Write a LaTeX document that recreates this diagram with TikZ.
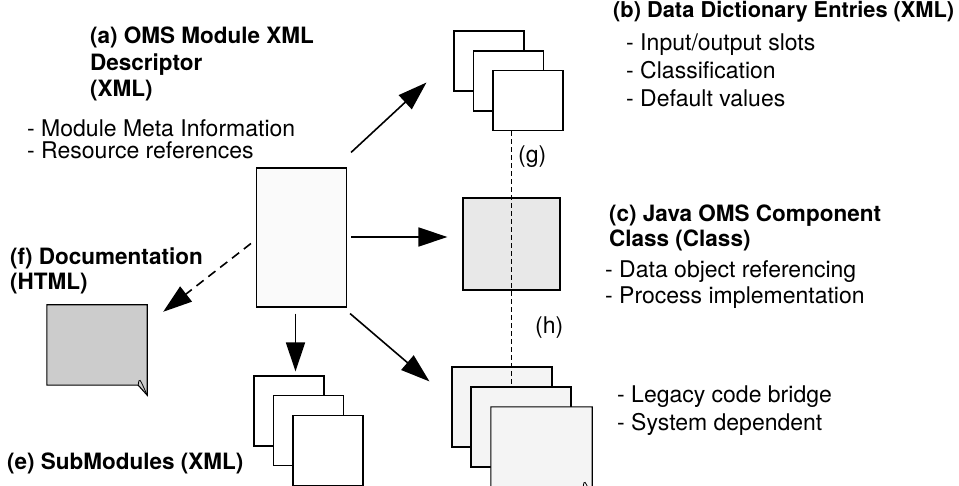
\documentclass[tikz,border=0pt]{standalone}
\usepackage{fontspec}
\setmainfont{TeX Gyre Heros}
\usepackage{tikz}
\usetikzlibrary{arrows.meta,positioning,calc}

\begin{document}
\begin{tikzpicture}[
  x=1pt, y=-1pt,
  page/.style={rectangle, draw, line width=1.1pt, fill=white, inner sep=0pt},
  bpage/.style={page, minimum width=70pt, minimum height=60pt},
  spage/.style={page, minimum width=70pt, minimum height=70pt},
  lpage/.style={page, fill=gray!9, minimum width=100pt, minimum height=80pt},
  head/.style={font=\fontsize{22.5}{26.5}\selectfont\bfseries, align=left, anchor=west, inner sep=0pt},
  note/.style={font=\fontsize{23}{26}\selectfont, align=left, anchor=west, inner sep=0pt},
  arr/.style={-{Triangle[length=29pt, width=19pt]}, line width=1.6pt},
  link/.style={dashed, dash pattern=on 5pt off 3pt, line width=0.7pt}
]
  \useasboundingbox (0,0) rectangle (959,486);

  % main descriptor and component class
  \node[page, fill=gray!4, minimum width=90pt, minimum height=139pt] (desc) at (301.5,237.5) {};
  \node[page, fill=gray!18, minimum width=97pt, minimum height=92pt] (comp) at (511.5,244) {};

  % data dictionary entries
  \node[bpage] (bp1) at (489,61) {};
  \node[bpage] (bp2) at ($(bp1)+(19.5,20)$) {};
  \node[bpage] (bp3) at ($(bp2)+(19.5,19.5)$) {};

  % submodules
  \node[spage] (sub1) at (289,411) {};
  \node[spage] (sub2) at ($(sub1)+(19.5,19.5)$) {};
  \node[spage] (sub3) at ($(sub2)+(19.5,20)$) {};

  % legacy pages
  \node[lpage] (leg1) at (502,407) {};
  \node[lpage] (leg2) at ($(leg1)+(19,20)$) {};
  \node[minimum width=101pt, minimum height=80pt, inner sep=0pt] (leg3) at ($(leg2)+(20.5,20)$) {};
  \draw[line width=1.1pt, fill=gray!9] (leg3.north west) -- (leg3.north east)
    -- ([yshift=-10]leg3.south east) -- ([xshift=-9]leg3.south east)
    -- (leg3.south west) -- cycle;
  \draw[line width=0.8pt] ([yshift=-10]leg3.south east) .. controls ([shift={(-8,-8)}]leg3.south east) .. ([xshift=-9]leg3.south east);

  % documentation page
  \node[minimum width=100pt, minimum height=80pt, inner sep=0pt] (doc) at (97,345) {};
  \draw[line width=1.1pt, fill=gray!40] (doc.north west) -- (doc.north east)
    -- ([yshift=-10]doc.south east) -- ([xshift=-9]doc.south east)
    -- (doc.south west) -- cycle;
  \draw[line width=0.8pt] ([yshift=-10]doc.south east) .. controls ([shift={(-8,-8)}]doc.south east) .. ([xshift=-9]doc.south east);

  % arrows
  \draw[arr] ([shift={(4,-15)}]desc.north east) -- ([shift={(-27,-9)}]bp1.south west);
  \draw[arr, shorten <=4pt, shorten >=15pt] ([yshift=0.5]desc.east) -- ([yshift=0.5]desc.east -| comp.west);
  \draw[arr] ([shift={(3,6)}]desc.south east) -- ([shift={(-22,15)}]leg1.north west);
  \draw[arr, shorten <=6pt, shorten >=4pt] ([xshift=-6]desc.south) -- ([xshift=-6]desc.south |- sub1.north);
  \draw[arr, dash pattern=on 9pt off 6pt] ([shift={(-5,6)}]desc.west) -- ([shift={(16,7)}]doc.north east);

  % references (g) and (h)
  \draw[link] (comp.center |- bp3.south) -- (comp.center |- leg2.north);
  \node[note] (refg) at (518,157) {(g)};
  \node[note] (refh) at (535,328) {(h)};

  % labels
  \node[head] (labA) at (90,64) {(a) OMS Module XML\\Descriptor\\(XML)};
  \node[note, font=\fontsize{23}{22}\selectfont] (infoA) at (27,139) {- Module Meta Information\\- Resource references};
  \node[head, font=\fontsize{21.8}{26}\selectfont\bfseries] (labB) at (613,12) {(b) Data Dictionary Entries (XML)};
  \node[note, font=\fontsize{23}{28}\selectfont] (infoB) at (626,70) {- Input/output slots\\- Classification\\- Default values};
  \node[head, font=\fontsize{22.5}{25}\selectfont\bfseries] (labC) at (609,227.5) {(c) Java OMS Component\\Class (Class)};
  \node[note] (infoC) at (605,285) {- Data object referencing\\- Process implementation};
  \node[note, font=\fontsize{23}{28}\selectfont] (infoD) at (617,411) {- Legacy code bridge\\- System dependent};
  \node[head, font=\fontsize{22.5}{25}\selectfont\bfseries] (labF) at (10,270.5) {(f) Documentation\\(HTML)};
  \node[head] (labE) at (7,463) {(e) SubModules (XML)};
\end{tikzpicture}
\end{document}
